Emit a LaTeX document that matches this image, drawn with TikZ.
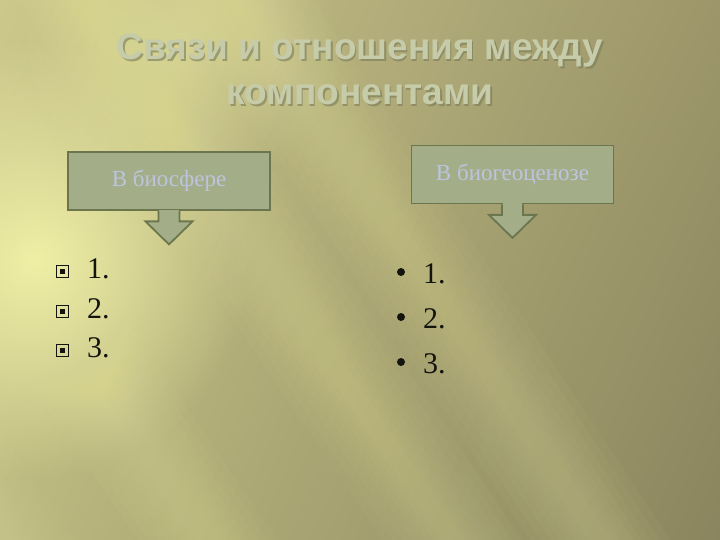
\documentclass[tikz,border=0pt]{standalone}
\usepackage{fontspec}
\setmainfont{Liberation Serif}
\newfontfamily\titlefont{Liberation Sans}
\usetikzlibrary{fadings,shadings,calc}
\definecolor{bgUL}{RGB}{204,200,140}
\definecolor{bgUR}{RGB}{156,150,106}
\definecolor{bgLL}{RGB}{188,185,128}
\definecolor{bgLR}{RGB}{138,133,94}
\definecolor{glowcol}{RGB}{242,242,168}
\definecolor{raycol}{RGB}{240,238,168}
\definecolor{titlecol}{RGB}{198,204,170}
\definecolor{titleshadow}{RGB}{120,122,88}
\definecolor{boxfill}{RGB}{163,174,137}
\definecolor{boxline}{RGB}{108,118,78}
\definecolor{boxtext}{RGB}{188,196,222}
\definecolor{listtext}{RGB}{20,20,15}
\tikzfading[name=glowfade, inner color=transparent!0, outer color=transparent!100]
\tikzset{
  titletext/.style={font=\titlefont\bfseries\fontsize{37}{45}\selectfont, text=titlecol, anchor=base, inner sep=0pt},
  titleshadowtext/.style={font=\titlefont\bfseries\fontsize{37}{45}\selectfont, text=titleshadow, anchor=base, inner sep=0pt, opacity=0.6},
  headbox/.style={draw=boxline, line width=1.8pt, fill=boxfill, minimum width=202pt, minimum height=58pt, inner sep=0pt,
    font=\fontsize{23}{26}\selectfont, text=boxtext},
  downarrow/.style={draw=boxline, line width=1.8pt, fill=boxfill, line join=miter},
  numtext/.style={font=\fontsize{30}{34}\selectfont, text=listtext, anchor=base west, inner sep=0pt},
  sqbullet/.style={draw=listtext, line width=0.9pt, minimum size=12pt, inner sep=0pt},
  sqdot/.style={fill=listtext, minimum size=5pt, inner sep=0pt},
  rdbullet/.style={circle, fill=listtext, minimum size=8pt, inner sep=0pt},
}
\newcommand{\softray}[4]{% x1 y1 x2 y2 : centre line
  \foreach \w in {70,60,50,41,33,26,19,12}{
    \fill[raycol, opacity=0.035]
      ($(#1,#2)+(-\w,0)$) -- ($(#1,#2)+(\w,0)$) -- ($(#3,#4)+(\w,0)$) -- ($(#3,#4)+(-\w,0)$) -- cycle;
  }}
\begin{document}
\begin{tikzpicture}[x=1pt,y=-1pt]
\useasboundingbox (0,0) rectangle (720,540);
% background
\shade[upper left=bgUL, upper right=bgUR, lower left=bgLL, lower right=bgLR] (0,0) rectangle (720,540);
\begin{scope}
\clip (0,0) rectangle (720,540);
\fill[glowcol, path fading=glowfade, opacity=0.95] (-180,40) rectangle (250,480);
\fill[glowcol, path fading=glowfade, opacity=0.45] (20,-120) rectangle (340,200);
\softray{60}{-40}{520}{640}
\softray{-60}{150}{290}{660}
\softray{-140}{330}{100}{680}
\softray{190}{-80}{640}{600}
\end{scope}
% title
\node[titleshadowtext] (t1s) at (361.5,61.5) {Связи и отношения между};
\node[titleshadowtext] (t2s) at (361.5,106.5) {компонентами};
\node[titletext] (t1) at (360,60) {Связи и отношения между};
\node[titletext] (t2) at (360,105) {компонентами};
% boxes
\node[headbox] (b1) at (169,181) {В биосфере};
\node[headbox] (b2) at (512.5,174.5) {В биогеоценозе};
\foreach \b in {b1,b2}{
  \fill[boxfill] ([xshift=-9.6pt,yshift=1.2pt]\b.south) rectangle ([xshift=9.6pt,yshift=-2pt]\b.south);
  \filldraw[downarrow] ([xshift=-10.5pt]\b.south) -- ++(0,10.5) -- ++(-13,0) -- ++(23.5,23) -- ++(23.5,-23) -- ++(-13,0) -- ++(0,-10.5);
}
% left list
\foreach \i/\y in {1/271,2/311,3/350}{
  \node[sqbullet] (lb\i) at (62.5,\y) {};
  \node[sqdot] (ld\i) at (lb\i) {};
  \pgfmathtruncatemacro{\yb}{\y+7}
  \node[numtext] (ln\i) at (87,\yb) {\i.};
}
% right list
\foreach \i/\y in {1/272,2/317,3/362}{
  \node[rdbullet] (rb\i) at (401,\y) {};
  \pgfmathtruncatemacro{\yb}{\y+11}
  \node[numtext] (rn\i) at (423,\yb) {\i.};
}
\end{tikzpicture}
\end{document}
